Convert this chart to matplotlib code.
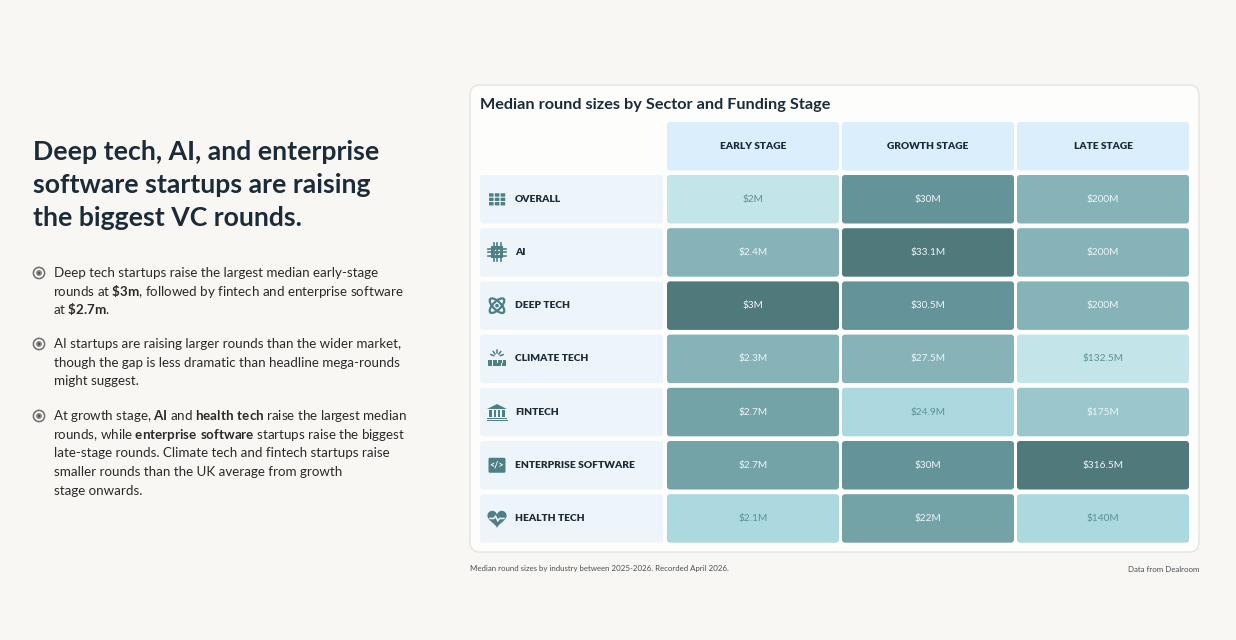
import matplotlib
matplotlib.use("Agg")
import matplotlib.pyplot as plt
from matplotlib.patches import FancyBboxPatch, Circle, Ellipse, Rectangle, Polygon
import numpy as np

# data
stages = ["EARLY STAGE", "GROWTH STAGE", "LATE STAGE"]
sectors = ["OVERALL", "AI", "DEEP TECH", "CLIMATE TECH", "FINTECH",
           "ENTERPRISE SOFTWARE", "HEALTH TECH"]
early = [2.0, 2.4, 3.0, 2.3, 2.7, 2.7, 2.1]
growth = [30.0, 33.1, 30.5, 27.5, 24.9, 30.0, 22.0]
late = [200.0, 200.0, 200.0, 132.5, 175.0, 316.5, 140.0]
# shade level of each cell as drawn in the source (0 = lightest)
shade_early = [0, 3, 6, 3, 4, 4, 1]
shade_growth = [5, 6, 5, 3, 1, 5, 4]
shade_late = [3, 3, 3, 0, 2, 6, 1]

palette = ["#c3e4e8", "#acd9df", "#9ac6cc", "#86b3b8", "#74a3a7", "#64939a", "#50797c"]

BG = "#f8f7f3"
DARK = "#1c2b38"
ICON = "#4d7f85"
FONT = "Lato"

plt.rcParams["mathtext.fontset"] = "custom"
plt.rcParams["mathtext.rm"] = FONT
plt.rcParams["mathtext.bf"] = FONT + ":bold"
plt.rcParams["mathtext.default"] = "regular"

fig = plt.figure(figsize=(12.36, 6.4), dpi=100, facecolor=BG)
ax = fig.add_axes([0, 0, 1, 1])
ax.set_xlim(0, 1236)
ax.set_ylim(640, 0)
ax.axis("off")
ax.set_facecolor(BG)


def fmt(v):
    s = f"{v:.1f}".rstrip("0").rstrip(".")
    return f"${s}M"


def markup(segments):
    out = ""
    for s, bold in segments:
        if bold:
            out += r"$\mathbf{" + s.replace("$", r"\$").replace(" ", r"\ ") + "}$"
        else:
            out += s
    return out


# ---- left side ----
ax.text(33, 185, "Deep tech, AI, and enterprise\nsoftware startups are raising\nthe biggest VC rounds.",
        fontsize=19.2, family=FONT, weight="bold", color=DARK, va="center", ha="left",
        linespacing=1.45)

bullets = [
    [[("Deep tech startups raise the largest median early-stage", False)],
     [("rounds at ", False), ("$3m", True), (", followed by fintech and enterprise software", False)],
     [("at ", False), ("$2.7m", True), (".", False)]],
    [[("AI startups are raising larger rounds than the wider market,", False)],
     [("though the gap is less dramatic than headline mega-rounds", False)],
     [("might suggest.", False)]],
    [[("At growth stage, ", False), ("AI", True), (" and ", False), ("health tech", True),
      (" raise the largest median", False)],
     [("rounds, while ", False), ("enterprise software", True), (" startups raise the biggest", False)],
     [("late-stage rounds. Climate tech and fintech startups raise", False)],
     [("smaller rounds than the UK average from growth", False)],
     [("stage onwards.", False)]],
]
bullet_top = [273, 344, 416]
line_h = 18.6
for top, lines in zip(bullet_top, bullets):
    ax.add_patch(Circle((39, top), 5.6, facecolor="none", edgecolor="#6b6b6b", lw=1.1))
    ax.add_patch(Circle((39, top), 3.0, facecolor="#8a8a8a", edgecolor="none"))
    ax.add_patch(Circle((39, top), 1.3, facecolor="#555555", edgecolor="none"))
    for k, segs in enumerate(lines):
        has_bold = any(b for _, b in segs)
        ax.text(54 - (1 if has_bold else 0), top + k * line_h + 4.2, markup(segs),
                fontsize=9.6, family=FONT, color="#2a2a2a", va="baseline", ha="left")

# ---- card ----
ax.add_patch(FancyBboxPatch((470, 85), 729, 467, boxstyle="round,pad=0,rounding_size=10",
                            facecolor="#fdfdfb", edgecolor="#e6e4df", lw=1.0))
ax.text(480, 105, "Median round sizes by Sector and Funding Stage", fontsize=11.7,
        family=FONT, weight="bold", color=DARK, va="center", ha="left")

col_x = [667, 842, 1017]
col_w = 172
row_y0 = 175
row_pitch = 53.2
row_h = 48.5
head_y, head_h = 122, 48.5

for j, st in enumerate(stages):
    ax.add_patch(FancyBboxPatch((col_x[j], head_y), col_w, head_h,
                                boxstyle="round,pad=0,rounding_size=3",
                                facecolor="#dbeefb", edgecolor="none"))
    ax.text(col_x[j] + col_w / 2, head_y + head_h / 2, st, fontsize=7.3, family=FONT,
            weight="heavy", color=DARK, ha="center", va="center")


def draw_icon(kind, cx, cy):
    c = ICON
    if kind == 0:  # grid
        for r in range(3):
            for q in range(3):
                ax.add_patch(FancyBboxPatch((cx - 8 + q * 5.8, cy - 6 + r * 4.4), 4.6, 3.4,
                                            boxstyle="round,pad=0,rounding_size=0.6",
                                            facecolor=c, edgecolor="none"))
    elif kind == 1:  # chip
        ax.add_patch(Rectangle((cx - 6, cy - 6), 12, 12, facecolor=c, edgecolor="none"))
        ax.add_patch(Rectangle((cx - 3, cy - 3), 6, 6, facecolor="#eef5fa", edgecolor="none"))
        ax.add_patch(Rectangle((cx - 1.6, cy - 1.6), 3.2, 3.2, facecolor=c, edgecolor="none"))
        for d in (-3.5, 0, 3.5):
            ax.plot([cx + d, cx + d], [cy - 9, cy + 9], color=c, lw=1.2, zorder=1)
            ax.plot([cx - 9, cx + 9], [cy + d, cy + d], color=c, lw=1.2, zorder=1)
    elif kind == 2:  # atom
        for ang in (45, -45):
            ax.add_patch(Ellipse((cx, cy), 19, 8, angle=ang, facecolor="none",
                                 edgecolor=c, lw=1.6))
        ax.add_patch(Circle((cx, cy), 1.8, facecolor=c, edgecolor="none"))
    elif kind == 3:  # sun + panels
        for a in np.linspace(200, 340, 5):
            r = np.radians(a)
            ax.plot([cx + 3.5 * np.cos(r), cx + 6.5 * np.cos(r)],
                    [cy - 2 + 3.5 * np.sin(r), cy - 2 + 6.5 * np.sin(r)], color=c, lw=1.1)
        for r in range(2):
            for q in range(4):
                x0 = cx - 9.2 + q * 4.8 + (1 - r) * 0.6
                w = 4.0 - (1 - r) * 0.4
                ax.add_patch(Rectangle((x0, cy + 1 + r * 3.6), w, 2.8,
                                       facecolor=c, edgecolor="none"))
    elif kind == 4:  # bank
        ax.add_patch(Polygon([[cx - 10, cy - 3], [cx, cy - 8], [cx + 10, cy - 3]],
                             closed=True, facecolor=c, edgecolor="none"))
        for d in (-6.5, -2.2, 2.2, 6.5):
            ax.add_patch(Rectangle((cx + d - 1.2, cy - 2), 2.4, 7, facecolor=c, edgecolor="none"))
        ax.add_patch(Rectangle((cx - 10, cy + 5.5), 20, 1.6, facecolor=c, edgecolor="none"))
        ax.add_patch(Rectangle((cx - 10.5, cy + 8), 21, 1.2, facecolor=c, edgecolor="none"))
    elif kind == 5:  # code
        ax.add_patch(FancyBboxPatch((cx - 8.5, cy - 7.5), 17, 15,
                                    boxstyle="round,pad=0,rounding_size=1.5",
                                    facecolor=c, edgecolor="none"))
        ax.text(cx, cy, "</>", fontsize=6.5, family=FONT, weight="bold", color="white",
                ha="center", va="center")
    elif kind == 6:  # heart
        t = np.linspace(0, 2 * np.pi, 80)
        hx = 16 * np.sin(t) ** 3
        hy = 13 * np.cos(t) - 5 * np.cos(2 * t) - 2 * np.cos(3 * t) - np.cos(4 * t)
        ax.add_patch(Polygon(np.column_stack([cx + hx * 0.6, cy - 0.5 - hy * 0.6]),
                             closed=True, facecolor=c, edgecolor="none"))
        ax.plot([cx - 7, cx - 3, cx - 1.5, cx + 0.8, cx + 2.5, cx + 7],
                [cy, cy, cy - 2.5, cy + 2.5, cy, cy], color="#eef5fa", lw=1.1)


values = np.column_stack([early, growth, late])
shades = np.column_stack([shade_early, shade_growth, shade_late])

for i, sec in enumerate(sectors):
    y = row_y0 + i * row_pitch
    cy = y + row_h / 2
    ax.add_patch(FancyBboxPatch((480, y), 183, row_h, boxstyle="round,pad=0,rounding_size=3",
                                facecolor="#eef5fa", edgecolor="none"))
    draw_icon(i, 497, cy)
    ax.text(515, cy, sec, fontsize=7.4, family=FONT, weight="heavy", color=DARK,
            ha="left", va="center")
    for j in range(3):
        lvl = shades[i, j]
        ax.add_patch(FancyBboxPatch((col_x[j], y), col_w, row_h,
                                    boxstyle="round,pad=0,rounding_size=3",
                                    facecolor=palette[lvl], edgecolor="none"))
        tc = "#5f8f94" if lvl <= 1 else "#eef6f7"
        ax.text(col_x[j] + col_w / 2, cy, fmt(values[i, j]), fontsize=7.3, family=FONT,
                color=tc, ha="center", va="center")

# footer
ax.text(470, 569, "Median round sizes by industry between 2025-2026. Recorded April 2026.",
        fontsize=5.7, family=FONT, color="#4a4f55", ha="left", va="center")
ax.text(1199, 569, "Data from Dealroom", fontsize=5.7, family=FONT, color="#4a4f55",
        ha="right", va="center")

fig.savefig("out.png", dpi=100, facecolor=BG)
